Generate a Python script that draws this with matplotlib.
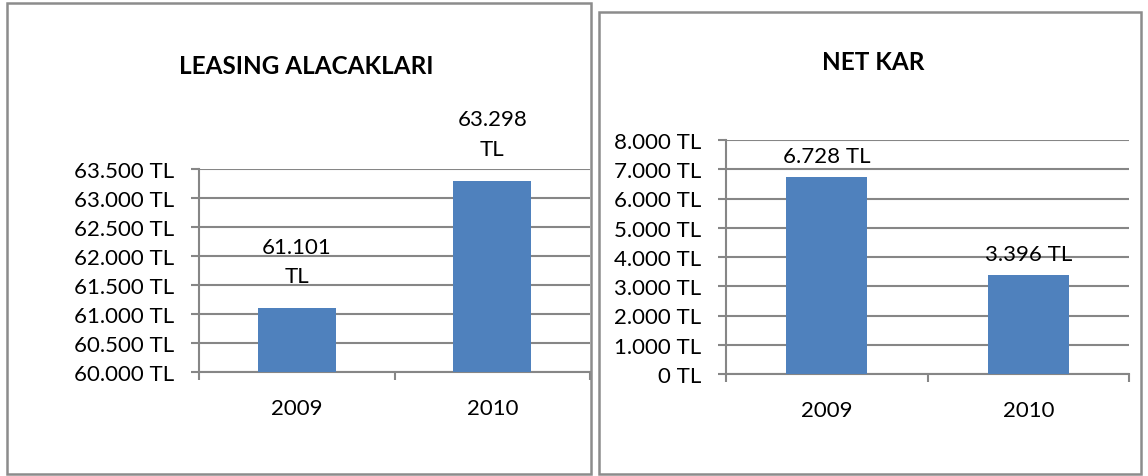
import matplotlib.pyplot as plt
from matplotlib.patches import Rectangle

# values
years = ["2009", "2010"]
leasing = [61101, 63298]
leasing_labels = ["61.101\nTL", "63.298\nTL"]
leasing_ticks = [60000, 60500, 61000, 61500, 62000, 62500, 63000, 63500]
leasing_ticklabels = ["60.000 TL", "60.500 TL", "61.000 TL", "61.500 TL",
                      "62.000 TL", "62.500 TL", "63.000 TL", "63.500 TL"]
netkar = [6728, 3396]
netkar_labels = ["6.728 TL", "3.396 TL"]
netkar_ticks = [0, 1000, 2000, 3000, 4000, 5000, 6000, 7000, 8000]
netkar_ticklabels = ["0 TL", "1.000 TL", "2.000 TL", "3.000 TL", "4.000 TL",
                     "5.000 TL", "6.000 TL", "7.000 TL", "8.000 TL"]

W, H = 1148, 477
plt.rcParams['font.family'] = ['Lato', 'DejaVu Sans']
fig = plt.figure(figsize=(W / 100, H / 100), dpi=100)

BAR = "#4F81BD"
GRID = "#868686"
FRAME = "#8C8C8C"


def px_rect(x0, y0, x1, y1):
    # pixel box (top-left origin) -> figure fractions
    return [x0 / W, 1 - y1 / H, (x1 - x0) / W, (y1 - y0) / H]


def frame(x0, y0, x1, y1):
    l, b, w, h = px_rect(x0, y0, x1, y1)
    fig.patches.append(Rectangle((l, b), w, h, transform=fig.transFigure,
                                 fill=False, edgecolor=FRAME, lw=1.8))


def bar_chart(box, values, labels, ticks, ticklabels, ylim, label_off):
    ax = fig.add_axes(px_rect(*box))
    x = range(len(values))
    ax.bar(x, values, width=0.4, color=BAR, zorder=3)
    ax.set_xlim(-0.5, len(values) - 0.5)
    ax.set_ylim(*ylim)
    ax.set_yticks(ticks)
    ax.set_yticklabels(ticklabels)
    ax.set_xticks(list(x))
    ax.set_xticklabels(years)
    ax.set_xticks([-0.5, 0.5, 1.5], minor=True)
    ax.yaxis.grid(True, color=GRID, lw=1.5, zorder=0)
    ax.set_axisbelow(True)
    for s in ["top", "right"]:
        ax.spines[s].set_visible(False)
    for s in ["left", "bottom"]:
        ax.spines[s].set_color(GRID)
        ax.spines[s].set_linewidth(1.5)
    ax.tick_params(axis="y", length=6, width=1.5, color=GRID, pad=12,
                   labelsize=16)
    ax.tick_params(axis="x", which="major", length=0, pad=19, labelsize=16)
    ax.tick_params(axis="x", which="minor", length=6, width=1.5, color=GRID)
    for xi, v, t in zip(x, values, labels):
        ax.annotate(t, (xi, v), xytext=(0, label_off), textcoords="offset pixels",
                    ha="center", va="bottom", fontsize=16, linespacing=1.6)
    return ax


frame(7, 4, 591, 475)
frame(599, 13, 1141, 475)

bar_chart((199, 170, 590, 373), leasing, leasing_labels, leasing_ticks,
          leasing_ticklabels, (60000, 63500), 22)
bar_chart((726, 141, 1129, 375), netkar, netkar_labels, netkar_ticks,
          netkar_ticklabels, (0, 8000), 11)

fig.text(306 / W, 1 - 67 / H, "LEASING ALACAKLARI", ha="center", va="center",
         fontsize=17.5, fontweight="bold")
fig.text(873 / W, 1 - 62 / H, "NET KAR", ha="center", va="center",
         fontsize=17.5, fontweight="bold")

fig.savefig("out.png", dpi=100)
